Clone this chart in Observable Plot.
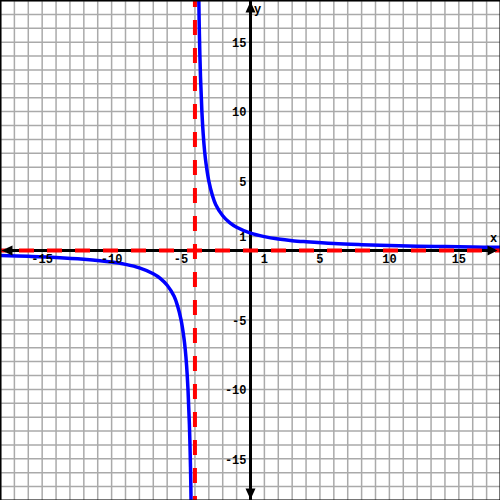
<!DOCTYPE html>
<html>
<head>
<meta charset="utf-8">
<script src="https://cdn.jsdelivr.net/npm/d3@7"></script>
<script src="https://cdn.jsdelivr.net/npm/@observablehq/plot@0.6"></script>
<style>
  html, body { margin: 0; padding: 0; background: #fff; }
  #chart svg { display: block; }
</style>
</head>
<body>
<div id="chart"></div>
<script>
// ---- data ----
const domainMin = -18;
const domainMax = 18;
const gridTicks = d3.range(-18, 19, 1);
const xTickLabels = [-15, -10, -5, 1, 5, 10, 15];
const yTickLabels = [15, 10, 5, 1, -5, -10, -15];
const verticalAsymptote = [-4];
const horizontalAsymptote = [0];

// right branch of the curve (x, y)
const rightX = [-3.72, -3.68, -3.6, -3.5, -3.4, -3.3, -3.2, -3, -2.75, -2.5, -2, -1.5, -1, 0, 1, 2, 3, 4, 6, 8, 10, 12, 14, 16, 18];
const rightY = [18, 15.6, 12.5, 10, 8.3, 7.1, 6.25, 5, 4, 3.3, 2.5, 2, 1.67, 1.25, 1, 0.83, 0.71, 0.63, 0.5, 0.42, 0.36, 0.31, 0.28, 0.25, 0.23];
// left branch of the curve (x, y)
const leftX = [-18, -16, -14, -12, -10, -9, -8, -7, -6.5, -6, -5.5, -5.25, -5, -4.8, -4.7, -4.6, -4.5, -4.4, -4.32, -4.28];
const leftY = [-0.36, -0.42, -0.5, -0.63, -0.83, -1, -1.25, -1.67, -2, -2.5, -3.3, -4, -5, -6.25, -7.1, -8.3, -10, -12.5, -15.6, -18];

const curve = [
  ...leftX.map((x, i) => ({x, y: leftY[i], branch: "left"})),
  ...rightX.map((x, i) => ({x, y: rightY[i], branch: "right"}))
];

// arrowhead symbols (tip near origin)
const triUp = {draw(c) { c.moveTo(0, 1); c.lineTo(5, 12); c.lineTo(-5, 12); c.closePath(); }};
const triDown = {draw(c) { c.moveTo(0, -1); c.lineTo(5, -12); c.lineTo(-5, -12); c.closePath(); }};
const triLeft = {draw(c) { c.moveTo(1, 0); c.lineTo(12, 5); c.lineTo(12, -5); c.closePath(); }};
const triRight = {draw(c) { c.moveTo(-3, 0); c.lineTo(-13, 5); c.lineTo(-13, -5); c.closePath(); }};

const font = {fontFamily: "Liberation Mono, DejaVu Sans Mono, monospace", fontWeight: "bold", fontSize: 12, fill: "black"};

const chart = Plot.plot({
  width: 500,
  height: 500,
  margin: 0,
  x: {domain: [domainMin, domainMax], axis: null},
  y: {domain: [domainMin, domainMax], axis: null},
  marks: [
    Plot.ruleX(gridTicks, {stroke: "#aaa", strokeWidth: 1.5, strokeOpacity: 1}),
    Plot.ruleY(gridTicks, {stroke: "#aaa", strokeWidth: 1.5, strokeOpacity: 1}),
    Plot.ruleX([0], {stroke: "black", strokeWidth: 3}),
    Plot.ruleY([0], {stroke: "black", strokeWidth: 3}),
    Plot.line(curve, {x: "x", y: "y", z: "branch", stroke: "#0000ff", strokeWidth: 3.5, curve: "catmull-rom", clip: true}),
    Plot.ruleX(verticalAsymptote, {stroke: "#ff0000", strokeWidth: 4, strokeDasharray: "15,13", strokeDashoffset: 8}),
    Plot.ruleY(horizontalAsymptote, {stroke: "#ff0000", strokeWidth: 4, strokeDasharray: "15,13", strokeDashoffset: 9}),
    Plot.dot([{x: 0, y: domainMax}], {x: "x", y: "y", symbol: triUp, fill: "black", stroke: "none"}),
    Plot.dot([{x: 0, y: domainMin}], {x: "x", y: "y", symbol: triDown, fill: "black", stroke: "none"}),
    Plot.dot([{x: domainMin, y: 0}], {x: "x", y: "y", symbol: triLeft, fill: "black", stroke: "none"}),
    Plot.dot([{x: domainMax, y: 0}], {x: "x", y: "y", symbol: triRight, fill: "black", stroke: "none"}),
    Plot.text(xTickLabels, {x: d => d, y: () => 0, text: d => String(d), dy: 9, textAnchor: "middle", ...font}),
    Plot.text(yTickLabels, {x: () => 0, y: d => d, text: d => String(d), dx: -4, dy: 1, textAnchor: "end", ...font}),
    Plot.text(["x"], {x: () => domainMax, y: () => 0, text: d => d, dx: -7, dy: -12, textAnchor: "middle", ...font}),
    Plot.text(["y"], {x: () => 0, y: () => domainMax, text: d => d, dx: 7, dy: 9, textAnchor: "middle", ...font}),
    Plot.frame({stroke: "black", strokeWidth: 2})
  ]
});
document.getElementById("chart").appendChild(chart);
</script>
</body>
</html>
